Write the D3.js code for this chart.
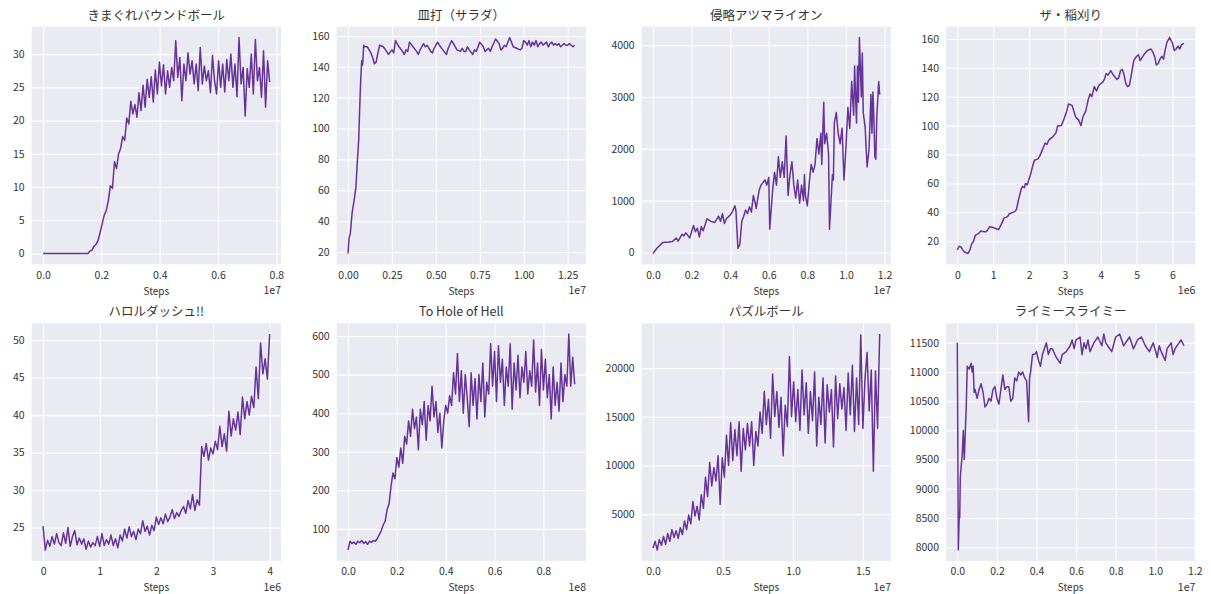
<!DOCTYPE html>
<html lang="ja">
<head>
<meta charset="UTF-8">
<title>Training curves</title>
<script src="https://cdn.jsdelivr.net/npm/d3@7"></script>
<style>
  body { margin: 0; background: #fff; }
  svg { display: block; font-family: "Noto Sans CJK JP", "Noto Sans", sans-serif; }
</style>
</head>
<body>
<svg id="chart" width="1211" height="594"></svg>
<script>
// ---- data (x in units of the axis offset, e.g. 1e7) ----
const titles = ["きまぐれバウンドボール", "皿打（サラダ）", "侵略アツマライオン", "ザ・稲刈り",
                "ハロルダッシュ!!", "To Hole of Hell", "パズルボール", "ライミースライミー"];
const offsets = ["1e7", "1e7", "1e7", "1e6", "1e6", "1e8", "1e7", "1e7"];

// きまぐれバウンドボール: one point every 0.007e7 steps
const kimagureStep = 0.007;
const kimagureY = [0,0,0,0,0,0,0,0,0,0,0,0,0,0,0,0,0,0,0,0,0,0,0,
  0.4,0.5,1.1,1.4,2.0,3.2,4.5,5.8,6.5,8.0,
  10.2,9.8,13.8,12.8,15.0,15.8,17.6,17.0,20.4,19.5,
  22.9,21.0,22.4,20.5,24.2,21.5,25.3,22.0,26.2,23.5,
  26.6,22.8,27.6,24.0,28.8,25.2,28.4,24.0,27.5,25.0,
  28.0,26.0,32.0,26.5,29.5,23.0,28.5,26.0,30.2,27.0,
  29.0,25.5,28.5,24.5,31.0,25.5,28.2,26.0,27.5,24.2,
  29.8,26.0,24.0,29.0,25.0,28.5,24.3,29.2,26.0,30.0,
  25.0,28.5,23.6,32.5,25.5,28.0,20.7,27.8,25.0,30.0,
  24.0,32.2,26.0,28.0,23.5,30.5,22.0,29.0,25.8];
const kimagureXTicks = [0, 0.2, 0.4, 0.6, 0.8];
const kimagureYTicks = [0, 5, 10, 15, 20, 25, 30];

// 皿打（サラダ）
const saraX = [0,0.006,0.013,0.023,0.038,0.045,0.051,0.061,0.066,0.072,0.076,0.078,0.082,0.085,0.089,0.095,
  0.11,0.13,0.14,0.15,0.16,0.17,0.18,0.20,0.22,0.23,0.25,0.26,0.27,0.29,
  0.31,0.32,0.33,0.34,0.35,0.37,0.39,0.40,0.41,0.43,0.44,0.45,0.47,0.48,0.49,0.51,0.52,0.54,0.56,0.57,
  0.59,0.60,0.62,0.64,0.65,0.66,0.67,0.68,0.69,0.71,0.72,0.73,0.75,0.77,0.78,0.80,0.81,0.82,0.84,0.86,
  0.87,0.88,0.89,0.90,0.92,0.93,0.94,0.96,0.98,0.99,1.00,1.01,
  1.02,1.03,1.04,1.05,1.06,1.07,1.08,1.09,1.10,1.11,1.12,1.13,1.14,1.15,1.16,1.17,1.18,1.19,1.20,1.21,
  1.22,1.23,1.24,1.25,1.26,1.27,1.28,1.29];
const saraY = [19,29,32,45,56,62,75,93,112,131,140,144,141,145,154,153,
  153,149,146,142,143,149,154,153,150,148,151,149,157,153,
  150,148,151,150,156,153,150,148,151,155,153,154,150,149,152,156,154,151,148,152,
  157,155,151,150,152,150,150,153,151,148,151,150,156,153,150,152,150,153,158,155,
  151,152,154,153,159,156,153,152,151,152,157,156,
  154,157,153,156,154,157,153,155,156,154,155,156,153,155,156,154,155,154,155,153,
  154,155,154,154,155,154,153,154];
const saraXTicks = [0, 0.25, 0.5, 0.75, 1.0, 1.25];
const saraYTicks = [20, 40, 60, 80, 100, 120, 140, 160];

// 侵略アツマライオン
const shinryakuX = [0,0.02,0.05,0.08,0.10,0.12,0.13,0.15,0.16,0.17,0.18,0.19,0.21,0.22,0.23,0.24,0.25,0.26,0.28,0.30,
  0.32,0.33,0.34,0.35,0.36,0.37,0.38,0.40,0.41,0.425,0.43,0.44,0.45,0.46,0.47,0.48,0.49,0.50,0.51,0.52,
  0.53,0.535,0.55,0.56,0.58,0.59,0.60,0.605,0.62,0.63,0.64,0.65,0.66,0.67,0.68,0.69,0.70,0.71,0.72,0.73,
  0.74,0.75,0.76,0.77,0.78,0.785,0.79,0.80,0.81,0.82,0.83,0.84,0.85,0.86,0.87,0.875,0.885,0.89,0.90,0.91,
  0.915,0.93,0.935,0.94,0.95,0.96,0.97,0.98,0.99,1.00,1.01,1.02,1.03,1.04,1.045,1.055,1.06,1.065,1.07,1.08,
  1.085,1.09,1.10,1.105,1.11,1.12,1.13,1.135,1.14,1.145,1.15,1.155,1.16,1.17,1.175];
const shinryakuY = [-20,80,190,200,210,280,220,350,320,380,330,280,520,400,470,300,500,420,650,600,
  580,640,700,600,750,560,650,720,780,900,800,80,150,600,700,820,750,880,780,1100,
  950,850,1200,1300,1400,1300,1450,450,1200,1550,1300,1850,1450,1750,1450,2250,1100,1500,1750,1300,
  1050,1400,950,1300,1000,1500,1100,900,1350,1700,1550,1700,2200,1900,2300,1700,2900,2100,2300,1900,
  450,1500,1400,2500,2700,2300,2100,2400,1400,2000,2800,2400,3300,2650,3600,2500,3600,2900,4150,3000,
  3850,2700,2400,2000,1650,2000,3050,2300,3100,2600,1850,1800,2600,3300,3050];
const shinryakuXTicks = [0, 0.2, 0.4, 0.6, 0.8, 1.0, 1.2];
const shinryakuYTicks = [0, 1000, 2000, 3000, 4000];

// ザ・稲刈り
const inakariX = [0,0.05,0.1,0.15,0.2,0.3,0.35,0.4,0.45,0.5,0.6,0.65,0.75,0.8,0.85,0.9,1.0,1.1,1.15,1.2,
  1.25,1.3,1.4,1.45,1.55,1.6,1.65,1.7,1.72,1.78,1.82,1.87,1.9,1.95,2.0,2.05,2.1,2.15,2.25,2.3,
  2.35,2.45,2.5,2.55,2.65,2.75,2.8,2.9,2.98,3.05,3.1,3.2,3.25,3.3,3.38,3.45,3.5,3.58,3.65,3.7,
  3.75,3.82,3.88,3.95,4.05,4.1,4.15,4.2,4.28,4.35,4.45,4.5,4.55,4.6,4.65,4.7,4.75,4.8,4.85,4.92,
  5.0,5.05,5.1,5.15,5.2,5.3,5.4,5.45,5.5,5.55,5.6,5.65,5.7,5.75,5.8,5.85,5.92,6.0,6.05,6.1,
  6.15,6.2,6.25,6.32];
const inakariY = [14,16.5,16,14,12.5,11.5,14,18,20,24,25.5,27,26.5,26.5,28,30,29.5,28.5,28,30.5,
  33,36,37,39,40,40.5,42,48,50,56,58,57,60,59,63,67,72,76,77,79,
  82,88,87,90,92,95,100,100,105,110,115,114,110,106,104,100,106,110,118,122,
  120,127,124,128,130,132,136,135,138,135,132,133,138,139,135,129,127,128,135,145,
  148,149,145,147,149,152,153,151,148,142,143,146,148,146,153,158,161,157,152,153,
  155,153,156,157];
const inakariXTicks = [0, 1, 2, 3, 4, 5, 6];
const inakariYTicks = [20, 40, 60, 80, 100, 120, 140, 160];

// ハロルダッシュ!!: one point every 0.04e6 steps
const harolStep = 0.04;
const harolY = [25.2,22.0,23.3,22.5,23.8,22.8,24.2,23.0,22.6,24.3,
  22.9,25.0,22.5,23.8,24.6,22.7,23.6,22.8,23.5,22.1,
  23.2,22.4,23.0,22.6,23.8,22.5,24.2,22.6,23.4,22.8,
  24.0,22.6,23.5,22.3,24.0,23.2,24.8,23.6,25.1,23.8,
  24.5,23.4,24.8,24.2,25.9,24.5,25.2,24.0,25.3,24.6,
  26.4,25.4,26.3,25.5,26.8,25.8,26.4,27.4,26.2,27.0,
  26.5,27.3,27.8,26.9,28.6,27.5,29.4,27.3,28.7,28.0,
  35.8,34.5,36.2,34.0,35.6,34.8,36.5,35.4,38.5,35.8,
  37.5,35.2,40.5,37.2,39.5,38.0,40.4,37.4,42.4,39.5,
  41.8,40.0,42.5,41.0,46.4,42.2,49.6,45.5,47.5,44.8,
  50.8];
const harolXTicks = [0, 1, 2, 3, 4];
const harolYTicks = [25, 30, 35, 40, 45, 50];

// To Hole of Hell: one point every 0.008e8 steps
const holeStep = 0.008;
const holeY = [45,68,62,66,60,68,64,70,62,67,
  60,68,65,70,68,75,85,95,110,120,
  150,165,210,245,230,285,260,310,270,340,
  320,380,340,410,360,390,305,410,370,430,
  330,420,380,470,390,430,350,400,310,380,
  420,400,445,420,505,450,555,430,510,400,
  500,440,365,505,420,490,385,500,430,530,
  390,480,450,580,470,560,430,575,480,540,
  420,520,470,580,410,530,460,550,440,520,
  480,560,450,510,470,590,455,530,420,565,
  460,540,440,500,385,520,420,480,405,530,
  430,500,470,605,470,545,475];
const holeXTicks = [0, 0.2, 0.4, 0.6, 0.8];
const holeYTicks = [100, 200, 300, 400, 500, 600];

// パズルボール: one point every 0.015e7 steps
const puzzleStep = 0.015;
const puzzleY = [1500,2200,1300,2400,1800,2700,1900,3000,2200,3400,
  2600,3300,2500,3600,2900,4300,3400,4900,4000,6300,
  4800,5800,4400,7000,5600,8800,6800,10300,7900,9800,
  8400,11000,6000,10800,8800,13100,10000,14400,10500,13700,
  11000,14500,9400,13800,11600,14300,12000,14500,10000,13500,
  12000,15500,13300,17600,14200,16800,12800,19400,15000,17600,
  13900,17000,11000,16200,14000,21200,15000,18600,14500,17800,
  13600,19800,15200,18500,13300,17600,14600,19600,12000,17000,
  14200,19000,12300,18300,15500,17800,11900,19200,14800,18400,
  15800,18000,13600,19500,15200,20300,13500,19000,14200,23400,
  13800,18900,21600,15600,19800,9400,19700,13800,23500];
const puzzleXTicks = [0, 0.5, 1.0, 1.5];
const puzzleYTicks = [5000, 10000, 15000, 20000];

// ライミースライミー
const slimyX = [0,0.005,0.01,0.012,0.015,0.025,0.03,0.035,0.045,0.05,0.06,0.07,0.075,0.08,0.085,0.09,0.1,0.11,0.12,0.13,
  0.14,0.15,0.16,0.17,0.18,0.19,0.2,0.21,0.22,0.23,0.24,0.25,0.26,0.27,0.28,0.29,0.3,0.31,0.32,0.33,
  0.34,0.35,0.36,0.365,0.37,0.38,0.39,0.4,0.41,0.42,0.43,0.45,0.46,0.47,0.48,0.5,0.52,0.53,0.55,0.57,
  0.58,0.59,0.6,0.62,0.63,0.64,0.65,0.66,0.67,0.69,0.71,0.73,0.74,0.75,0.76,0.78,0.8,0.82,0.84,0.85,
  0.87,0.89,0.91,0.93,0.95,0.97,0.99,1.01,1.02,1.03,1.05,1.06,1.08,1.09,1.1,1.12,1.13,1.145];
const slimyY = [11500,7950,8600,8500,9200,9600,10000,9500,10400,11100,11050,11150,11000,11100,10650,10700,10550,10700,10800,10650,
  10400,10450,10550,10500,10700,10750,10550,10450,10700,10950,10700,10750,10750,10500,10550,10900,10850,11000,10950,11000,
  10900,10850,10150,10900,11000,11300,11300,11350,11200,11100,11300,11500,11300,11400,11400,11250,11150,11300,11350,11450,
  11550,11400,11550,11600,11300,11500,11400,11550,11350,11500,11600,11450,11650,11500,11450,11350,11600,11650,11450,11500,
  11600,11400,11550,11600,11450,11350,11500,11250,11450,11350,11200,11400,11500,11300,11400,11500,11550,11450];
const slimyXTicks = [0, 0.2, 0.4, 0.6, 0.8, 1.0, 1.2];
const slimyYTicks = [8000, 8500, 9000, 9500, 10000, 10500, 11000, 11500];

// ---- build panels ----
const evenSteps = (vals, step) => vals.map((_, i) => i * step);

const panels = [
  { x: evenSteps(kimagureY, kimagureStep), y: kimagureY, xTicks: kimagureXTicks, yTicks: kimagureYTicks, xFmt: ".1f" },
  { x: saraX, y: saraY, xTicks: saraXTicks, yTicks: saraYTicks, xFmt: ".2f" },
  { x: shinryakuX, y: shinryakuY, xTicks: shinryakuXTicks, yTicks: shinryakuYTicks, xFmt: ".1f" },
  { x: inakariX, y: inakariY, xTicks: inakariXTicks, yTicks: inakariYTicks, xFmt: "d" },
  { x: evenSteps(harolY, harolStep), y: harolY, xTicks: harolXTicks, yTicks: harolYTicks, xFmt: "d" },
  { x: evenSteps(holeY, holeStep), y: holeY, xTicks: holeXTicks, yTicks: holeYTicks, xFmt: ".1f" },
  { x: evenSteps(puzzleY, puzzleStep), y: puzzleY, xTicks: puzzleXTicks, yTicks: puzzleYTicks, xFmt: ".1f" },
  { x: slimyX, y: slimyY, xTicks: slimyXTicks, yTicks: slimyYTicks, xFmt: ".1f" }
];
panels.forEach((p, i) => { p.title = titles[i]; p.offset = offsets[i]; });

// ---- layout ----
const lefts = [31.7, 336.7, 641.7, 946];
const tops = [26.7, 323.3];
const w = 249.3, h = 237.6;
const textColor = "#333";
const lineColor = "#663399";

// matplotlib-like 5% margins
const padded = ext => {
  const m = (ext[1] - ext[0]) * 0.05;
  return [ext[0] - m, ext[1] + m];
};

const styleAxis = sel => {
  sel.select(".domain").remove();
  sel.attr("font-family", null).attr("font-size", null);
  sel.selectAll(".tick line").attr("stroke", "#fff").attr("stroke-width", 1.1);
  sel.selectAll(".tick text").attr("fill", textColor).style("font-size", "10.5px");
};

const svg = d3.select("#chart");

panels.forEach((p, k) => {
  const g = svg.append("g")
    .attr("transform", `translate(${lefts[k % 4]},${tops[Math.floor(k / 4)]})`);

  const xScale = d3.scaleLinear().domain(padded(d3.extent(p.x))).range([0, w]);
  const yScale = d3.scaleLinear().domain(padded(d3.extent(p.y))).range([h, 0]);

  g.append("rect").attr("width", w).attr("height", h).attr("fill", "#EAEAF2");

  g.append("g")
    .attr("transform", `translate(0,${h})`)
    .call(d3.axisBottom(xScale).tickValues(p.xTicks)
      .tickFormat(d3.format(p.xFmt)).tickSize(-h).tickPadding(7))
    .call(styleAxis);

  g.append("g")
    .call(d3.axisLeft(yScale).tickValues(p.yTicks)
      .tickFormat(d3.format("d")).tickSize(-w).tickPadding(7))
    .call(styleAxis);

  const line = d3.line()
    .x((d, i) => xScale(p.x[i]))
    .y(d => yScale(d));

  g.append("path")
    .datum(p.y)
    .attr("fill", "none")
    .attr("stroke", lineColor)
    .attr("stroke-width", 1.5)
    .attr("stroke-linejoin", "round")
    .attr("d", line);

  g.append("text")
    .attr("x", w / 2).attr("y", -7)
    .attr("text-anchor", "middle")
    .attr("fill", textColor)
    .style("font-size", "12.5px")
    .text(p.title);

  g.append("text")
    .attr("x", w / 2).attr("y", h + 30.5)
    .attr("text-anchor", "middle")
    .attr("fill", textColor)
    .style("font-size", "10px")
    .text("Steps");

  g.append("text")
    .attr("x", w).attr("y", h + 30)
    .attr("text-anchor", "end")
    .attr("fill", textColor)
    .style("font-size", "10.5px")
    .text(p.offset);
});
</script>
</body>
</html>
